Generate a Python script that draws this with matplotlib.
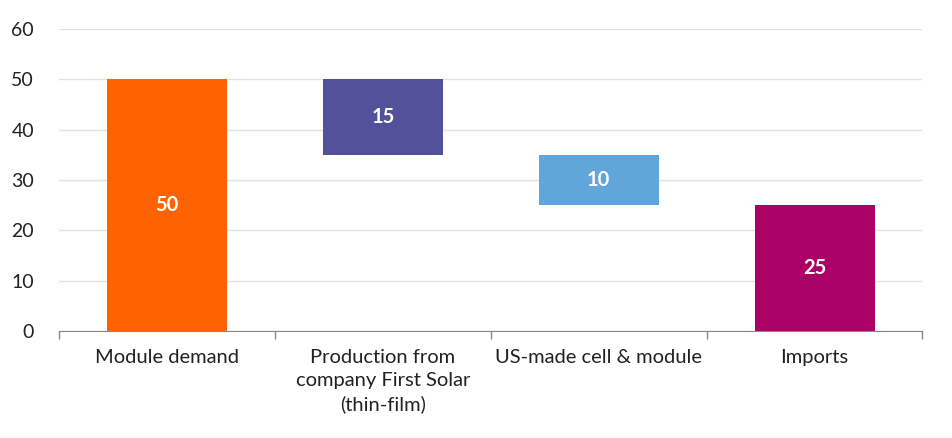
import numpy as np
import matplotlib.pyplot as plt

categories = ['Module demand', 'Production from\ncompany First Solar\n(thin-film)',
              'US-made cell & module', 'Imports']
values = [50, 15, 10, 25]
bottoms = [0, 35, 25, 0]
colors = ['#FF6200', '#525199', '#60A6DA', '#AB0066']

plt.rcParams['font.family'] = ['Lato', 'DejaVu Sans']

fig = plt.figure(figsize=(9.52, 4.38), dpi=100)
ax = fig.add_axes([0.062, 0.2443, 0.907, 0.6897])

x = np.arange(len(categories))
ax.bar(x, values, bottom=bottoms, width=0.556, color=colors, zorder=3)
for xi, v, b in zip(x, values, bottoms):
    ax.text(xi, b + v / 2, str(v), ha='center', va='center', color='white',
            fontsize=14.5, fontweight='bold', zorder=4)

ax.set_xlim(-0.5, len(categories) - 0.5)
ax.set_ylim(0, 60)
ax.set_yticks(range(0, 61, 10))
ax.set_xticks(x)
ax.set_xticklabels(categories, fontsize=14.5, color='#222222', linespacing=1.42)
ax.set_xticks(np.arange(-0.5, len(categories)), minor=True)
ax.tick_params(axis='x', which='major', length=0, pad=13)
ax.tick_params(axis='x', which='minor', length=6, color='#888888', width=1)
ax.tick_params(axis='y', length=0, pad=18, labelsize=14, labelcolor='#222222')

ax.grid(axis='y', color='#e2e2e2', linewidth=1, zorder=0)
for s in ['top', 'right', 'left']:
    ax.spines[s].set_visible(False)
ax.spines['bottom'].set_color('#888888')
ax.spines['bottom'].set_zorder(5)

fig.savefig('out.png', dpi=100)
